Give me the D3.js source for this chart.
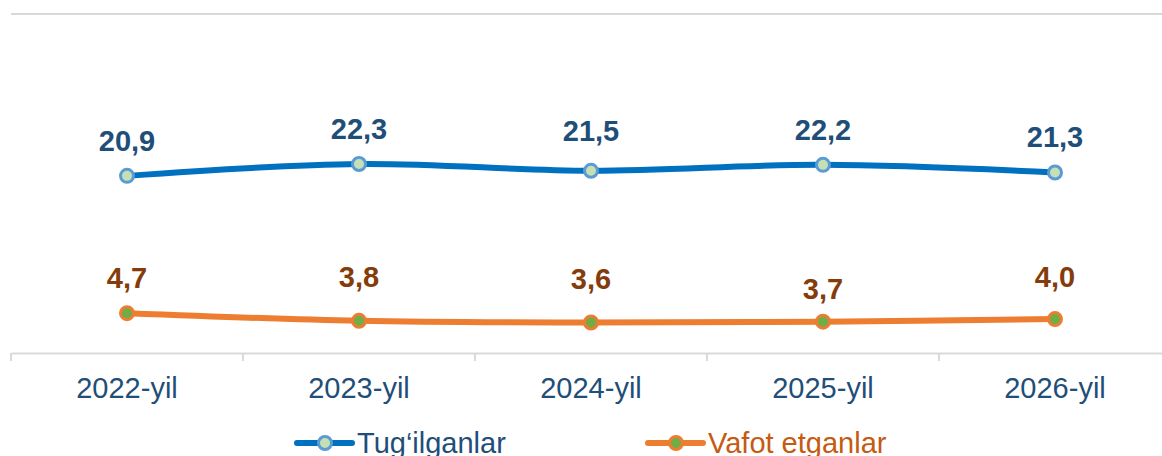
<!DOCTYPE html>
<html>
<head>
<meta charset="utf-8">
<script src="https://cdn.jsdelivr.net/npm/d3@7"></script>
<style>
  html, body { margin: 0; padding: 0; background: #fff; }
  svg { display: block; }
</style>
</head>
<body>
<div id="chart"></div>
<script>
// data
const years = ["2022-yil", "2023-yil", "2024-yil", "2025-yil", "2026-yil"];
const births = [20.9, 22.3, 21.5, 22.2, 21.3];
const deaths = [4.7, 3.8, 3.6, 3.7, 4.0];
const seriesNames = ["Tug\u2018ilganlar", "Vafot etganlar"];

// manual label nudges (the source had hand-moved labels)
const birthLabelNudge = [0, 0, -5, 0, 0];
const deathLabelNudge = [0, -9, -8, 2, -7];

const width = 1162, height = 456;
const font = "'Liberation Sans', Arial, sans-serif";

const svg = d3.select("#chart").append("svg")
  .attr("width", width)
  .attr("height", height)
  .attr("font-family", font);

const x = d3.scaleBand().domain(years).range([11, 1171]);
const y = d3.scaleLinear().domain([0, 40]).range([353, 14]);
const cx = d => x(d) + x.bandwidth() / 2;

// top border line (max of value axis)
svg.append("line")
  .attr("x1", 11).attr("x2", width)
  .attr("y1", y(40)).attr("y2", y(40))
  .attr("stroke", "#d9d9d9").attr("stroke-width", 2);

// category axis
const axis = svg.append("g")
  .attr("transform", `translate(0,${y(0)})`)
  .call(d3.axisBottom(x).tickSize(0).tickPadding(24));
axis.select(".domain").attr("stroke", "#d9d9d9").attr("stroke-width", 2);
axis.selectAll("text")
  .attr("font-family", font)
  .attr("font-size", 29)
  .attr("fill", "#1f4e79");

// boundary tick marks between categories
const bounds = years.map(d => x(d)).concat([x.range()[1]]);
axis.selectAll(".bound")
  .data(bounds)
  .join("line")
  .attr("class", "bound")
  .attr("x1", d => d).attr("x2", d => d)
  .attr("y1", 0).attr("y2", 8)
  .attr("stroke", "#d9d9d9").attr("stroke-width", 2);

const series = [
  { name: seriesNames[0], values: births, nudge: birthLabelNudge, line: "#0070c0", ring: "#5b9bd5", dot: "#c5e0b4", label: "#1f4e79", legend: "#1f4e79" },
  { name: seriesNames[1], values: deaths, nudge: deathLabelNudge, line: "#ed7d31", ring: "#ed7d31", dot: "#70ad47", label: "#843c0c", legend: "#c55a11" }
];

const line = d3.line()
  .x((d, i) => cx(years[i]))
  .y(d => y(d))
  .curve(d3.curveCatmullRom.alpha(0.5));

const fmt = v => d3.format(".1f")(v).replace(".", ",");

series.forEach(s => {
  const g = svg.append("g");
  g.append("path")
    .datum(s.values)
    .attr("d", line)
    .attr("fill", "none")
    .attr("stroke", s.line)
    .attr("stroke-width", 6)
    .attr("stroke-linecap", "round");

  g.selectAll("circle")
    .data(s.values)
    .join("circle")
    .attr("cx", (d, i) => cx(years[i]))
    .attr("cy", d => y(d))
    .attr("r", 6.5)
    .attr("fill", s.dot)
    .attr("stroke", s.ring)
    .attr("stroke-width", 3);

  g.selectAll("text")
    .data(s.values)
    .join("text")
    .attr("x", (d, i) => cx(years[i]))
    .attr("y", (d, i) => y(d) - 25 + s.nudge[i])
    .attr("text-anchor", "middle")
    .attr("font-size", 29)
    .attr("font-weight", "bold")
    .attr("fill", s.label)
    .text(fmt);
});

// legend
const legendX = [297, 648];
const legend = svg.selectAll(".legend")
  .data(series)
  .join("g")
  .attr("class", "legend")
  .attr("transform", (d, i) => `translate(${legendX[i]},443)`);

legend.append("line")
  .attr("x1", 0).attr("x2", 55)
  .attr("stroke", d => d.line)
  .attr("stroke-width", 6)
  .attr("stroke-linecap", "round");
legend.append("circle")
  .attr("cx", 28).attr("r", 6.5)
  .attr("fill", d => d.dot)
  .attr("stroke", d => d.ring)
  .attr("stroke-width", 3);
legend.append("text")
  .attr("x", 60).attr("y", 10)
  .attr("font-size", 29)
  .attr("fill", d => d.legend)
  .text(d => d.name);
</script>
</body>
</html>
